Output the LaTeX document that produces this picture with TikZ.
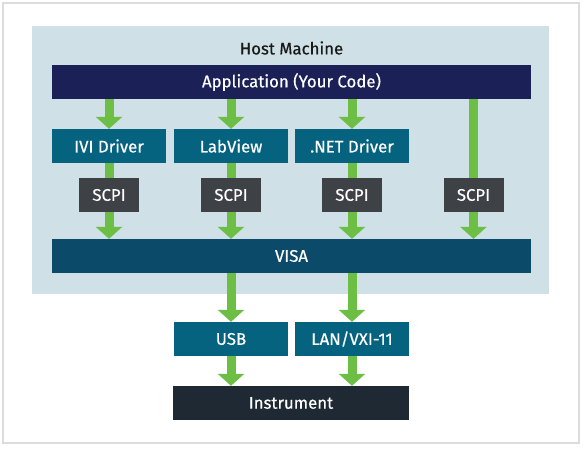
\documentclass[tikz,border=0pt]{standalone}
\usepackage{fontspec}
\setmainfont{Fira Sans}[FakeBold=0.5]
\usetikzlibrary{arrows.meta}
\definecolor{hostbg}{HTML}{CFE0E6}
\definecolor{appc}{HTML}{1B2157}
\definecolor{tealc}{HTML}{05637F}
\definecolor{scpic}{HTML}{3E4246}
\definecolor{visac}{HTML}{0B4A68}
\definecolor{instc}{HTML}{1E2934}
\definecolor{greenc}{HTML}{6CBE45}
\definecolor{framec}{HTML}{DCDCDC}
\pgfdeclarelayer{bg}
\pgfdeclarelayer{mid}
\pgfsetlayers{bg,mid,main}
\tikzset{
  box/.style={inner sep=0pt, text=white, font=\fontsize{16.8}{19}\selectfont, minimum height=34pt},
  appbox/.style={box, fill=appc, minimum width=479pt},
  tealbox/.style={box, fill=tealc, minimum width=114pt},
  scpibox/.style={box, fill=scpic, minimum width=60pt},
  visabox/.style={box, fill=visac, minimum width=479pt},
  instbox/.style={box, fill=instc, minimum width=236pt},
  flow/.style={draw=greenc, line width=9pt, -{Triangle[width=26pt,length=12pt]}}
}
\begin{document}
\begin{tikzpicture}[x=1pt,y=-1pt]
\useasboundingbox (0,0) rectangle (583,448);
\begin{pgfonlayer}{bg}
\fill[white] (0,0) rectangle (583,448);
\draw[framec, line width=1.3pt] (3,3) rectangle (579,443);
\node[fill=hostbg, minimum width=517pt, minimum height=268pt, inner sep=0pt] (host) at (290.5,160) {};
\end{pgfonlayer}
\node[font=\fontsize{16.8}{19}\selectfont, text=black!90, inner sep=0pt] (hosttitle) at (291.5,48) {Host Machine};
\node[appbox] (app) at (291.5,82) {Application (Your Code)};
\node[tealbox] (ivi) at (109,146) {IVI Driver};
\node[tealbox] (lab) at (231,146) {LabView};
\node[tealbox] (net) at (352,146) {.NET Driver};
\node[scpibox] (s1) at (109,195) {SCPI};
\node[scpibox] (s2) at (231,195) {SCPI};
\node[scpibox] (s3) at (352,195) {SCPI};
\node[scpibox] (s4) at (473.5,195) {SCPI};
\node[visabox] (visa) at (291.5,256) {VISA};
\node[tealbox] (usb) at (231,339) {USB};
\node[tealbox] (lan) at (352,339) {LAN/VXI-11};
\node[instbox] (inst) at (291,403) {Instrument};
\begin{pgfonlayer}{mid}
\draw[flow] (app.south -| ivi.north) -- (ivi.north);
\draw[flow] (app.south -| lab.north) -- (lab.north);
\draw[flow] (app.south -| net.north) -- (net.north);
\draw[flow] (ivi.south) -- (ivi.south |- visa.north);
\draw[flow] (lab.south) -- (lab.south |- visa.north);
\draw[flow] (net.south) -- (net.south |- visa.north);
\draw[flow] (app.south -| s4.north) -- (s4.north |- visa.north);
\draw[flow] (visa.south -| usb.north) -- (usb.north);
\draw[flow] (visa.south -| lan.north) -- (lan.north);
\draw[flow] (usb.south) -- (usb.south |- inst.north);
\draw[flow] (lan.south) -- (lan.south |- inst.north);
\end{pgfonlayer}
\end{tikzpicture}
\end{document}
